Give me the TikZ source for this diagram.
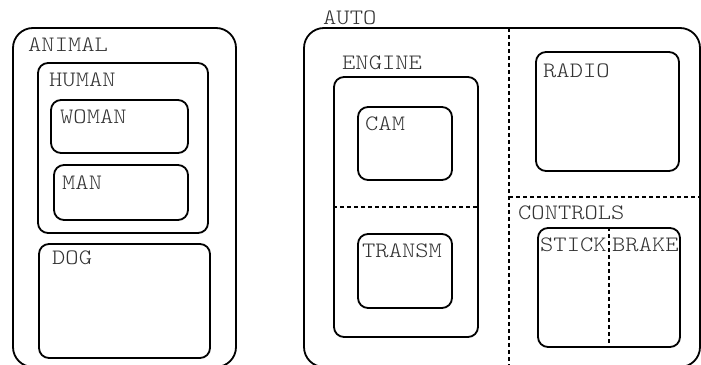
\documentclass[tikz,border=0pt]{standalone}
\usepackage{fontspec}
\newfontfamily\courfont{lmmonolt10-regular.otf}[FakeStretch=1.15]
\usetikzlibrary{fit}
\tikzset{
  box/.style={draw, line width=1.8pt, rounded corners=#1, inner sep=0pt},
  box/.default=10pt,
  lbl/.style={anchor=west, inner sep=0pt, text=black!80,
    font=\courfont\fontsize{22}{26}\selectfont},
  divider/.style={line width=1.8pt, dash pattern=on 4pt off 3pt},
}
\begin{document}
\begin{tikzpicture}[x=1pt,y=-1pt]
\useasboundingbox (0,0) rectangle (701,364);
\clip (0,0) rectangle (701,364);

% ANIMAL hierarchy
\coordinate (an1) at (13,28);  \coordinate (an2) at (236,367);
\node[box=20pt, fit=(an1)(an2)] (animal) {};
\node[lbl] (animalL) at (28,45) {ANIMAL};

\coordinate (hu1) at (38,63);  \coordinate (hu2) at (208,233);
\node[box, fit=(hu1)(hu2)] (human) {};
\node[lbl] (humanL) at (49,80) {HUMAN};

\coordinate (wo1) at (51,100); \coordinate (wo2) at (188,153);
\node[box, fit=(wo1)(wo2)] (woman) {};
\node[lbl] (womanL) at (60,117) {WOMAN};

\coordinate (ma1) at (54,165); \coordinate (ma2) at (188,220);
\node[box, fit=(ma1)(ma2)] (man) {};
\node[lbl] (manL) at (62,183) {MAN};

\coordinate (do1) at (39,244); \coordinate (do2) at (210,358);
\node[box, fit=(do1)(do2)] (dog) {};
\node[lbl] (dogL) at (52,258) {DOG};

% AUTO hierarchy
\node[lbl] (autoL) at (323,18) {AUTO};
\coordinate (au1) at (304,28); \coordinate (au2) at (700,367);
\node[box=20pt, fit=(au1)(au2)] (auto) {};
\coordinate (vTop) at (509,28);  \coordinate (vBot) at (509,366);
\draw[divider] (vTop) -- (vBot);
\coordinate (hLeft) at (509,197); \coordinate (hRight) at (701,197);
\draw[divider] (hLeft) -- (hRight);

\node[lbl] (engineL) at (342,63) {ENGINE};
\coordinate (en1) at (334,77); \coordinate (en2) at (478,337);
\node[box, fit=(en1)(en2)] (engine) {};
\draw[divider] (engine.west |- 0,207) -- (engine.east |- 0,207);

\coordinate (ca1) at (358,107); \coordinate (ca2) at (452,180);
\node[box, fit=(ca1)(ca2)] (cam) {};
\node[lbl] (camL) at (365,124) {CAM};

\coordinate (tr1) at (358,234); \coordinate (tr2) at (452,308);
\node[box, fit=(tr1)(tr2)] (transm) {};
\node[lbl] (transmL) at (362,251) {TRANSM};

\coordinate (ra1) at (536,52); \coordinate (ra2) at (679,171);
\node[box, fit=(ra1)(ra2)] (radio) {};
\node[lbl] (radioL) at (543,71) {RADIO};

\node[lbl] (controlsL) at (518,213) {CONTROLS};
\coordinate (co1) at (538,228); \coordinate (co2) at (680,347);
\node[box, fit=(co1)(co2)] (controls) {};
\draw[divider] (controls.north -| 609,0) -- (controls.south -| 609,0);
\node[lbl] (stickL) at (540,245) {STICK};
\node[lbl] (brakeL) at (612,245) {BRAKE};
\end{tikzpicture}
\end{document}
